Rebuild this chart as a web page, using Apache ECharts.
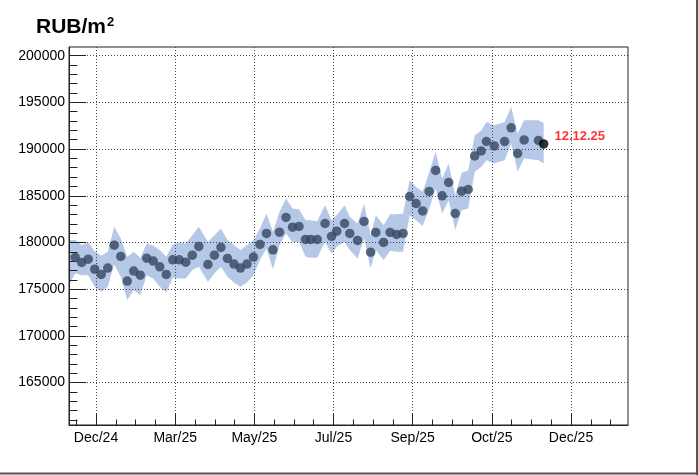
<!DOCTYPE html>
<html>
<head>
<meta charset="utf-8">
<script src="https://cdn.jsdelivr.net/npm/echarts@6/dist/echarts.min.js"></script>
<style>
html,body{margin:0;padding:0;background:#fff;}
#c{width:698px;height:475px;}
</style>
</head>
<body>
<div id="c"></div>
<script>
// days since 31.12.2024
const dayOffsets = [-16,-11,-6,-1,4,9,14,19,24,29,34,39,44,49,54,59,64,69,74,79,86,91,96,101,106,111,116,121,126,131,136,141,146,151,156,161,165,170,176,181,185,191,195,201,206,211,215,221,226,231,236,241,246,251,256,261,266,271,276,281,286,291,296,300,306,314,319,324,329,340,344];
const prices = [178400,177860,178210,177140,176580,177250,179710,178500,175860,176930,176500,178320,178000,177390,176580,178140,178140,177890,178640,179570,177650,178640,179470,178290,177680,177250,177680,178430,179790,180960,179210,181100,182680,181640,181710,180320,180320,180320,182030,180640,181210,182030,180960,180210,182250,178960,181070,180000,181070,180860,180960,184920,184170,183380,185460,187710,184990,186420,183100,185490,185670,189270,189800,190810,190340,190810,192270,189530,190980,190920,190550];
// confidence band (first vertex sits on the left frame edge)
const bandDays = [-20.75].concat(dayOffsets);
const upperBand = [180250,180250,179710,180060,179070,178570,178990,181670,180430,178460,178990,178350,179890,179640,179180,178460,179790,180000,179890,180780,181670,180060,180780,181500,180250,179710,179180,179710,180250,181500,183100,181140,183280,184710,183640,183560,182390,182390,182280,183990,182390,182920,183990,182740,182030,184170,180780,182920,181850,183030,183030,183100,186670,185950,185420,187520,189700,186850,188460,185060,187450,187740,191480,191950,192910,192560,192910,194510,191670,193090,193090,192800];
const lowerBand = [175450,176680,176500,176500,175250,174710,175250,177650,176320,173820,174900,174360,176500,176150,175250,174650,176210,176150,176150,177040,177390,175780,176680,177390,176320,175720,175250,175720,176500,178110,179360,177140,179710,180960,180060,180060,178460,178350,178370,180060,178820,179530,180060,179180,178290,180430,177220,179180,178110,179100,178990,178990,182920,182390,181750,183560,185780,183100,184530,181320,183460,183640,187560,188090,188810,188460,188810,190600,187560,188990,188810,188460];
const xTickDays = [0, 60.833, 121.667, 182.5, 243.333, 304.167, 365];
const xTickLabels = ['Dec/24','Mar/25','May/25','Jul/25','Sep/25','Oct/25','Dec/25'];
const yTickValues = [165000,170000,175000,180000,185000,190000,195000,200000];
const lastDateLabel = '12.12.25';
const unitTitle = 'RUB/m';

const xStep = (xTickDays[1] - xTickDays[0]) / 4;
const xMinor = [];
for (let k = -1; k <= 26; k++) { if (k % 4 !== 0) xMinor.push(+(k * xStep).toFixed(3)); }
const yMinor = [];
for (let v = 161000; v <= 200000; v += 1000) { if (v % 5000 !== 0) yMinor.push(v); }

const XMIN = -20.75, XMAX = 408.8, YMIN = 160450, YMAX = 200930;
const frameColor = '#222';
const gridStyle = {color: '#444', width: 1, type: [1, 2]};

const chart = echarts.init(document.getElementById('c'), null, {renderer: 'canvas'});
const n = prices.length;
const nb = bandDays.length;
const pts = dayOffsets.map((d, i) => [d, prices[i]]);

chart.setOption({
  animation: false,
  title: {
    text: '{a|' + unitTitle + '}{b|2}',
    left: 31, top: 11,
    textStyle: {
      rich: {
        a: {fontFamily: 'Liberation Sans', fontWeight: 'bold', fontSize: 21, color: '#000'},
        b: {fontFamily: 'Liberation Sans', fontWeight: 'bold', fontSize: 13, color: '#000', verticalAlign: 'top', padding: [0,0,10,1]}
      }
    }
  },
  grid: {left: 69, right: 70, top: 47, bottom: 50, show: true, borderColor: frameColor, borderWidth: 1, backgroundColor: 'transparent'},
  xAxis: [{
    type: 'value', min: XMIN, max: XMAX, position: 'bottom',
    axisLine: {show: true, onZero: false, lineStyle: {color: frameColor}},
    axisTick: {show: true, inside: true, length: 11, customValues: xTickDays, lineStyle: {color: frameColor}},
    axisLabel: {
      customValues: xTickDays, margin: 6, fontFamily: 'Liberation Sans', fontSize: 14, color: '#000',
      formatter: v => { const i = xTickDays.findIndex(t => Math.abs(t - v) < 0.01); return i >= 0 ? xTickLabels[i] : ''; }
    },
    splitLine: {show: true, lineStyle: gridStyle}
  }, {
    type: 'value', min: XMIN, max: XMAX, position: 'bottom',
    axisLine: {show: false, onZero: false},
    axisTick: {show: true, inside: true, length: 5.5, customValues: xMinor, lineStyle: {color: frameColor}},
    axisLabel: {show: false}, splitLine: {show: false}
  }],
  yAxis: [{
    type: 'value', min: YMIN, max: YMAX, position: 'left',
    axisLine: {show: true, onZero: false, lineStyle: {color: frameColor}},
    axisTick: {show: true, inside: true, length: 17, customValues: yTickValues, lineStyle: {color: frameColor}},
    axisLabel: {customValues: yTickValues, margin: 4, fontFamily: 'Liberation Sans', fontSize: 14, color: '#000', formatter: v => String(v)},
    splitLine: {show: true, lineStyle: gridStyle}
  }, {
    type: 'value', min: YMIN, max: YMAX, position: 'left',
    axisLine: {show: false, onZero: false},
    axisTick: {show: true, inside: true, length: 8.5, customValues: yMinor, lineStyle: {color: frameColor}},
    axisLabel: {show: false}, splitLine: {show: false}
  }],
  series: [{
    type: 'custom', z: -1,
    data: [[dayOffsets[0], prices[0]]],
    renderItem: (params, api) => {
      const poly = [];
      for (let i = 0; i < nb; i++) poly.push(api.coord([bandDays[i], upperBand[i]]));
      for (let i = nb - 1; i >= 0; i--) poly.push(api.coord([bandDays[i], lowerBand[i]]));
      return {type: 'polygon', shape: {points: poly}, style: {fill: '#b6c8e8', stroke: null}};
    },
    silent: true
  }, {
    type: 'scatter', symbol: 'circle', symbolSize: 9.5,
    itemStyle: {color: '#36465f'},
    data: pts.slice(0, n - 1), silent: true
  }, {
    type: 'scatter', symbol: 'circle', symbolSize: 9.5,
    itemStyle: {color: '#000'},
    data: [pts[n - 1]], silent: true,
    label: {show: true, position: 'right', distance: 5, offset: [1, -8], formatter: lastDateLabel,
      fontFamily: 'Liberation Sans', fontWeight: 'bold', fontSize: 13, color: '#ff0000'}
  }],
  graphic: [
    {type: 'line', shape: {x1: 697, y1: 0, x2: 697, y2: 475}, style: {stroke: '#555', lineWidth: 2}},
    {type: 'line', shape: {x1: 0, y1: 473.5, x2: 698, y2: 473.5}, style: {stroke: '#555', lineWidth: 2}}
  ]
});
</script>
</body>
</html>
